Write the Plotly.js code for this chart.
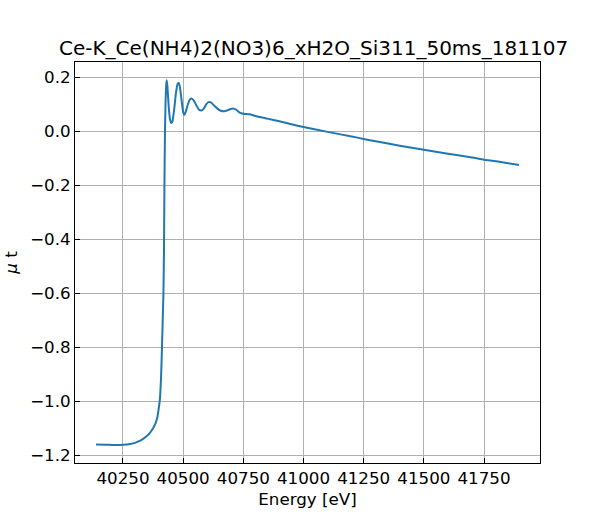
<!DOCTYPE html>
<html>
<head>
<meta charset="utf-8">
<script src="https://cdn.plot.ly/plotly-3.0.1.min.js"></script>
<style>html,body{margin:0;padding:0;background:#fff;}#plot{width:600px;height:520px;}</style>
</head>
<body>
<div id="plot"></div>
<script>
const energy = [40138,40180,40220,40250,40280,40300,40319,40335,40350,40361,40375,40385,40392,40398,40403,40408,40412,40415,40418,40420.5,40422,40424.5,40427,40430,40432,40435,40440,40445,40450,40455,40462,40470,40477,40482,40487,40494,40500,40505,40512,40520,40528,40536,40545,40555,40565,40575,40585,40595,40605,40615,40628,40642,40656,40670,40685,40698,40710,40722,40735,40750,40775,40800,40850,40900,40950,41000,41100,41200,41250,41300,41400,41500,41600,41700,41750,41800,41895];
const mu = [-1.160,-1.161,-1.162,-1.161,-1.158,-1.154,-1.147,-1.138,-1.128,-1.118,-1.100,-1.082,-1.062,-1.030,-0.995,-0.915,-0.800,-0.700,-0.600,-0.420,-0.220,0.000,0.110,0.175,0.188,0.160,0.090,0.045,0.030,0.035,0.075,0.140,0.175,0.178,0.160,0.110,0.070,0.060,0.075,0.100,0.117,0.120,0.112,0.095,0.080,0.076,0.082,0.098,0.107,0.106,0.095,0.083,0.075,0.073,0.077,0.082,0.083,0.078,0.068,0.064,0.062,0.056,0.046,0.036,0.025,0.015,-0.003,-0.020,-0.029,-0.038,-0.054,-0.069,-0.084,-0.098,-0.106,-0.112,-0.126];
const xTicks = [40250,40500,40750,41000,41250,41500,41750];
const yTicks = [-1.2,-1.0,-0.8,-0.6,-0.4,-0.2,0.0,0.2];
const titleText = "Ce-K_Ce(NH4)2(NO3)6_xH2O_Si311_50ms_181107";

const font = "DejaVu Sans, sans-serif";
const trace = {
  x: energy, y: mu, type: "scatter", mode: "lines",
  line: {color: "#1f77b4", width: 2, shape: "spline", smoothing: 0.6},
  hoverinfo: "none"
};
const axisCommon = {
  showline: true, mirror: true, linecolor: "#000", linewidth: 1,
  ticks: "inside", ticklen: 5, tickwidth: 1, tickcolor: "#000",
  showgrid: true, gridcolor: "#b0b0b0", gridwidth: 1, zeroline: false,
  tickfont: {family: font, size: 16.7, color: "#000"}
};
const layout = {
  width: 600, height: 520,
  margin: {l: 75, r: 60, t: 62, b: 57},
  paper_bgcolor: "#fff", plot_bgcolor: "#fff",
  showlegend: false,
  title: {text: titleText, font: {family: font, size: 20, color: "#000"},
    x: 0.513, xanchor: "center", xref: "paper", yref: "container", y: 1 - 48/520, yanchor: "middle"},
  xaxis: Object.assign({}, axisCommon, {
    range: [40050.6, 41982.6], tickmode: "array", tickvals: xTicks, ticktext: xTicks.map(String),
    title: {text: "Energy [eV]", font: {family: font, size: 16.7, color: "#000"}, standoff: 6}
  }),
  yaxis: Object.assign({}, axisCommon, {
    range: [-1.2285, 0.2556], tickmode: "array", tickvals: yTicks,
    ticktext: yTicks.map(v => (v < 0 ? "\u2212" : "") + Math.abs(v).toFixed(1)),
    title: {text: "<i>μ</i> t", font: {family: font, size: 16.7, color: "#000"}, standoff: 8}
  })
};
Plotly.newPlot("plot", [trace], layout, {staticPlot: true, displayModeBar: false});
</script>
</body>
</html>
